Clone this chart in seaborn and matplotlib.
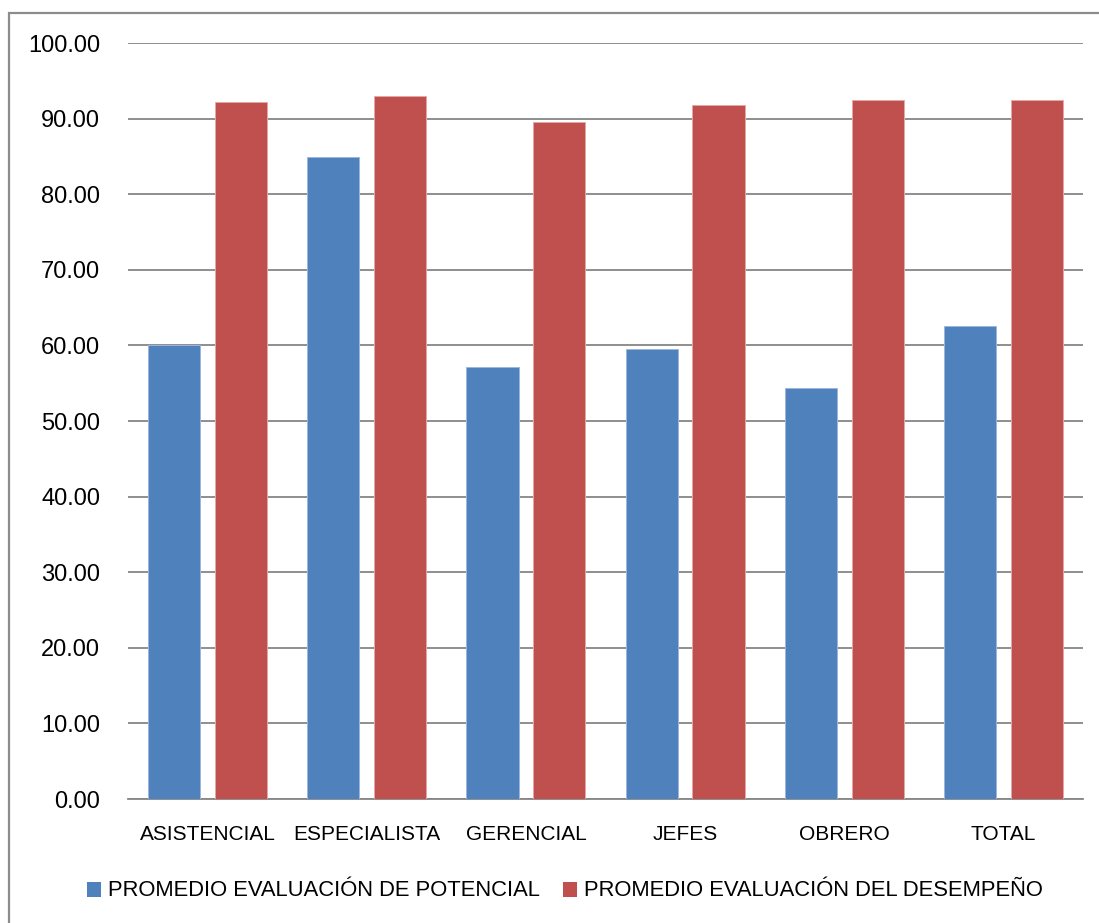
import matplotlib
matplotlib.use("Agg")
import matplotlib.pyplot as plt
from matplotlib.patches import Rectangle
from matplotlib.ticker import FormatStrFormatter, MultipleLocator
import pandas as pd
import seaborn as sns

categorias = ["ASISTENCIAL", "ESPECIALISTA", "GERENCIAL", "JEFES", "OBRERO", "TOTAL"]
potencial = [60.0, 84.9, 57.2, 59.5, 54.4, 62.5]
desempeno = [92.25, 93.0, 89.55, 91.85, 92.4, 92.45]
series = ["PROMEDIO EVALUACIÓN DE POTENCIAL", "PROMEDIO EVALUACIÓN DEL DESEMPEÑO"]
colores = ["#4F81BD", "#C0504D"]
bordes = ["#9DB7DC", "#E4A9A7"]

df = pd.DataFrame({
    "categoria": categorias * 2,
    "valor": potencial + desempeno,
    "serie": [series[0]] * len(categorias) + [series[1]] * len(categorias),
})

sns.set_theme(style="white")
plt.rcParams["font.family"] = ["Liberation Sans", "DejaVu Sans"]
plt.rcParams["text.color"] = "black"

fig = plt.figure(figsize=(10.99, 9.23), dpi=100)
ax = fig.add_axes([128 / 1099, 1 - 799 / 923, (1083 - 128) / 1099, (799 - 43) / 923])

sns.barplot(data=df, x="categoria", y="valor", hue="serie", palette=colores,
            width=0.84, gap=0.22, order=categorias, hue_order=series,
            saturation=1, linewidth=0.7, ax=ax, zorder=3)

# lighter outline per series
for cont, borde in zip(ax.containers, bordes):
    for p in cont.patches:
        p.set_edgecolor(borde)

grid_color = "#868686"
ax.set_ylim(0, 100)
ax.yaxis.set_major_locator(MultipleLocator(10))
ax.yaxis.set_major_formatter(FormatStrFormatter("%.2f"))
ax.yaxis.grid(True, color=grid_color, linewidth=1.3, zorder=0)
ax.set_axisbelow(True)
for s in ["left", "right", "top"]:
    ax.spines[s].set_visible(False)
ax.spines["bottom"].set_color(grid_color)
ax.spines["bottom"].set_linewidth(1.3)
ax.set_xlabel("")
ax.set_ylabel("")
ax.tick_params(axis="y", length=0, pad=20, labelsize=17, labelcolor="black")
ax.tick_params(axis="x", length=0, pad=19, labelsize=15, labelcolor="black")

handles, labels = ax.get_legend_handles_labels()
if ax.get_legend() is not None:
    ax.get_legend().remove()
fig.legend(handles, labels, loc="center", bbox_to_anchor=(0.5135, 1 - 891 / 923),
           ncol=2, frameon=False, fontsize=15.8, handlelength=0.7, handleheight=0.7,
           handletextpad=0.3, columnspacing=1.0, labelcolor="black")

# chart frame
fig.patches.append(Rectangle((9 / 1099, -0.1), 1.2, 1.1 - 13 / 923,
                             transform=fig.transFigure, fill=False,
                             edgecolor="#8C8C8C", linewidth=1.6, zorder=10))

fig.savefig("out.png", dpi=100, facecolor="white")
